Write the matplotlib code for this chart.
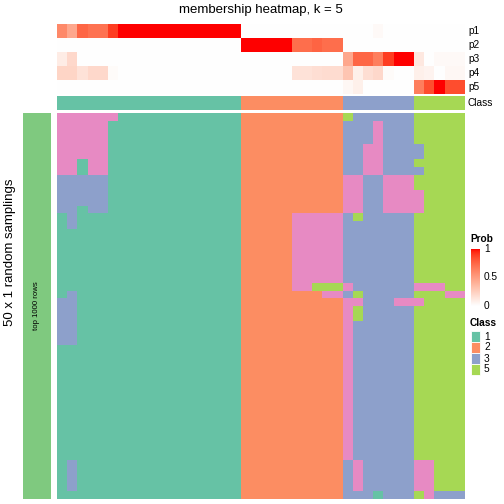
import numpy as np
import matplotlib
matplotlib.use("Agg")
import matplotlib.pyplot as plt
from matplotlib.colors import ListedColormap
from matplotlib.patches import Rectangle

plt.rcParams['font.family'] = ['Liberation Sans', 'DejaVu Sans']

# membership probabilities per column (40 samples)
p1 = [0.6, 0.45, 0.75, 0.7, 0.7, 0.9] + [1.0] * 12 + [0.0] * 13 + [0.03] + [0.0] * 8
p2 = [0.0] * 18 + [1.0] * 5 + [0.72, 0.72, 0.76, 0.72, 0.72] + [0.0] * 12
p3 = [0.1, 0.2] + [0.0] * 26 + [0.45, 0.75, 0.75, 0.65, 0.9, 1.0, 1.0, 0.12, 0.0, 0.03, 0.03, 0.03]
p4 = [0.22, 0.22, 0.15, 0.2, 0.2, 0.02] + [0.0] * 17 + [0.15, 0.15, 0.17, 0.18, 0.18] \
    + [0.3, 0.08, 0.17, 0.2, 0.02, 0.0, 0.0, 0.08, 0.06, 0.0, 0.04, 0.04]
p5 = [0.0] * 28 + [0.04, 0.08, 0.0, 0.0, 0.0, 0.0, 0.0, 0.65, 0.85, 1.0, 0.85, 0.85]
prob_labels = ["p1", "p2", "p3", "p4", "p5"]

# consensus class per column
class_row = "1" * 18 + "2" * 10 + "3" * 7 + "5" * 5

# class of each sample in each of the 50 random samplings (one string per row)
samplings = [
    "444444111111111111" "2222222222" "5333333" "55555",
    "444441111111111111" "2222222222" "3334333" "55555",
    "444441111111111111" "2222222222" "3334333" "55555",
    "444441111111111111" "2222222222" "3334333" "55555",
    "444441111111111111" "2222222222" "3344333" "35555",
    "444441111111111111" "2222222222" "3344333" "35555",
    "441441111111111111" "2222222222" "3344333" "55555",
    "441441111111111111" "2222222222" "3344333" "35555",
    "333331111111111111" "2222222222" "4433444" "55555",
    "333331111111111111" "2222222222" "4433444" "55555",
    "333331111111111111" "2222222222" "4433444" "45555",
    "333331111111111111" "2222222222" "4433444" "45555",
    "331331111111111111" "2222222222" "4433444" "45555",
    "131111111111111111" "2222244444" "3533333" "55555",
    "131111111111111111" "2222244444" "3333333" "55555",
    "111111111111111111" "2222244444" "3333333" "55555",
    "111111111111111111" "2222244444" "3333333" "55555",
    "111111111111111111" "2222244444" "3333333" "55555",
    "111111111111111111" "2222244444" "3333333" "55555",
    "111111111111111111" "2222244444" "3333333" "55555",
    "111111111111111111" "2222244444" "3333333" "55555",
    "111111111111111111" "2222244444" "3333333" "55555",
    "111111111111111111" "2222244555" "4333333" "44455",
    "131111111111111111" "2222222244" "3533333" "55544",
    "331111111111111111" "2222222222" "4433344" "45555",
    "331111111111111111" "2222222222" "4533333" "55555",
    "331111111111111111" "2222222222" "4533333" "55555",
    "331111111111111111" "2222222222" "4333333" "55555",
    "331111111111111111" "2222222222" "4333333" "55555",
    "331111111111111111" "2222222222" "4333333" "55555",
] + ["111111111111111111" "2222222222" "4333333" "55555"] * 15 + [
    "131111111111111111" "2222222222" "3433333" "44555",
    "131111111111111111" "2222222222" "3433333" "44555",
    "131111111111111111" "2222222222" "3433333" "44555",
    "131111111111111111" "2222222222" "3433333" "44555",
    "111111111111111111" "2222222222" "3331333" "54333",
]

class_colors = ["#66C2A5", "#FC8D62", "#8DA0CB", "#E78AC3", "#A6D854"]
legend_classes = ["1", "2", "3", "5"]


def white_red_lab(n=256):
    # white -> red interpolated in CIE LAB, like colorRamp2
    t = np.linspace(0, 1, n)
    L = 100 + (53.24 - 100) * t
    a = 80.09 * t
    b = 67.20 * t
    fy = (L + 16) / 116
    fx = fy + a / 500
    fz = fy - b / 200

    def finv(f):
        return np.where(f > 6 / 29, f ** 3, 3 * (6 / 29) ** 2 * (f - 4 / 29))
    X, Y, Z = 0.95047 * finv(fx), finv(fy), 1.08883 * finv(fz)
    r = 3.2406 * X - 1.5372 * Y - 0.4986 * Z
    g = -0.9689 * X + 1.8758 * Y + 0.0415 * Z
    bl = 0.0557 * X - 0.2040 * Y + 1.0570 * Z
    rgb = np.clip(np.stack([r, g, bl], axis=1), 0, 1)
    rgb = np.where(rgb > 0.0031308, 1.055 * rgb ** (1 / 2.4) - 0.055, 12.92 * rgb)
    return ListedColormap(np.clip(rgb, 0, 1))


prob_cmap = white_red_lab()
class_cmap = ListedColormap(class_colors)

W = H = 504
fig = plt.figure(figsize=(5.04, 5.04), dpi=100)


def ax_px(x0, y0, x1, y1):
    ax = fig.add_axes([x0 / W, 1 - y1 / H, (x1 - x0) / W, (y1 - y0) / H])
    ax.set_axis_off()
    return ax


HX0, HX1 = 57, 465

# probability rows
prob = np.array([p1, p2, p3, p4, p5])
ax = ax_px(HX0, 24, HX1, 94)
ax.imshow(prob, cmap=prob_cmap, vmin=0, vmax=1, aspect="auto", interpolation="nearest")

# class row
ax = ax_px(HX0, 96, HX1, 110)
cls = np.array([[int(c) - 1 for c in class_row]])
ax.imshow(cls, cmap=class_cmap, vmin=-0.5, vmax=4.5, aspect="auto", interpolation="nearest")

# main heatmap
ax = ax_px(HX0, 113, HX1, 499)
mat = np.array([[int(c) - 1 for c in row] for row in samplings])
ax.imshow(mat, cmap=class_cmap, vmin=-0.5, vmax=4.5, aspect="auto", interpolation="nearest")

# left annotation bar
ax = ax_px(22.5, 113, 51, 499)
ax.add_patch(Rectangle((0, 0), 1, 1, color="#7FC97F", transform=ax.transAxes))
ax.text(0.5, 0.5, "top 1000 rows", rotation=90, ha="center", va="center",
        fontsize=5.6, transform=ax.transAxes)

# overlay for labels and legends, in pixel coordinates
ov = ax_px(0, 0, W, H)
ov.set_xlim(0, W)
ov.set_ylim(H, 0)

ov.text(261, 10, "membership heatmap, k = 5", ha="center", va="center", fontsize=9.5)
ov.text(10, 252, "50 x 1 random samplings", rotation=90, ha="center", va="center", fontsize=9.5)

for i, lab in enumerate(prob_labels + ["Class"]):
    yc = 31 + 14 * i if i < 5 else 103
    ov.text(468, yc, lab, ha="left", va="center", fontsize=7.3)

# Prob colour bar
LX0, LX1 = 470.5, 479.5
ov.text(LX0 - 0.5, 239, "Prob", ha="left", va="center", fontsize=7.3, fontweight="bold")
cax = ax_px(LX0, 249, LX1, 306)
grad = np.linspace(1, 0, 200).reshape(-1, 1)
cax.imshow(grad, cmap=prob_cmap, vmin=0, vmax=1, aspect="auto")
for v, lab in [(1, "1"), (0.5, "0.5"), (0, "0")]:
    yy = 306 - v * 57
    ov.text(484, yy, lab, ha="left", va="center", fontsize=7.3)
    if v > 0:
        ov.plot([LX0, LX0 + 2], [yy, yy], color="white", lw=0.8)
        ov.plot([LX1 - 2, LX1], [yy, yy], color="white", lw=0.8)

# Class legend
ov.text(LX0 - 0.5, 323, "Class", ha="left", va="center", fontsize=7.3, fontweight="bold")
for i, c in enumerate(legend_classes):
    y0 = 331 + 11 * i
    ov.add_patch(Rectangle((LX0, y0), LX1 - LX0, 11, facecolor=class_colors[int(c) - 1],
                           edgecolor="white", lw=0.6))
    ov.text(484, y0 + 5.5, c, ha="left", va="center", fontsize=7.3)

fig.savefig("out.png", dpi=100)
